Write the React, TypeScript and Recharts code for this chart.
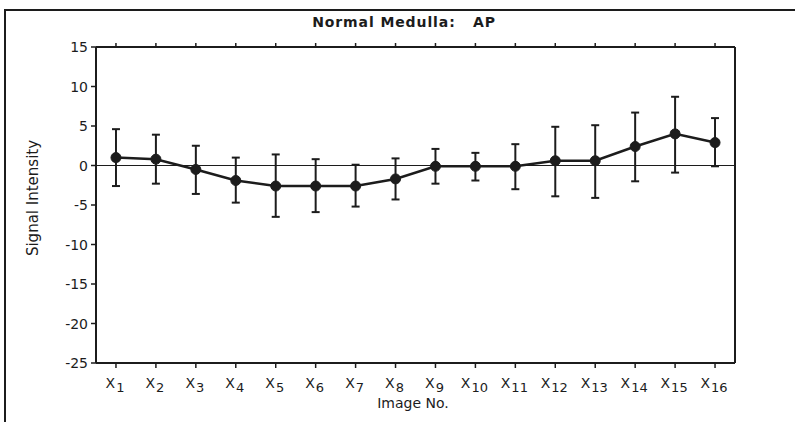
import React from 'react'
import { LineChart, Line, XAxis, YAxis, ReferenceLine, ErrorBar } from 'recharts'

const images = ['X1', 'X2', 'X3', 'X4', 'X5', 'X6', 'X7', 'X8', 'X9', 'X10', 'X11', 'X12', 'X13', 'X14', 'X15', 'X16']
const meanSignal = [1.0, 0.8, -0.5, -1.9, -2.6, -2.6, -2.6, -1.7, -0.1, -0.1, -0.1, 0.6, 0.6, 2.4, 4.0, 2.9]
const upperBar = [4.6, 3.9, 2.5, 1.0, 1.4, 0.8, 0.1, 0.9, 2.1, 1.6, 2.7, 4.9, 5.1, 6.7, 8.7, 6.0]
const lowerBar = [-2.6, -2.3, -3.6, -4.7, -6.5, -5.9, -5.2, -4.3, -2.3, -1.9, -3.0, -3.9, -4.1, -2.0, -0.9, -0.1]
const majorTicks = [15, 10, 5, 0, -5, -10, -15, -20, -25]
const minorTicks = [12.5, 7.5, 2.5, -2.5, -7.5, -12.5, -17.5, -22.5]
const allTicks = [15, 12.5, 10, 7.5, 5, 2.5, 0, -2.5, -5, -7.5, -10, -12.5, -15, -17.5, -20, -22.5, -25]

const chartData = images.map((label, i) => ({
  label,
  mean: meanSignal[i],
  err: [meanSignal[i] - lowerBar[i], upperBar[i] - meanSignal[i]],
}))

const INK = '#1c1c1c'
const FONT = '"DejaVu Sans", sans-serif'

const XTick = (props: any) => {
  const { x, y, payload } = props
  const num = String(payload.value).slice(1)
  return (
    <text x={x - 1} y={y + 18} textAnchor="middle" fill={INK} fontFamily={FONT} fontSize={14}>
      <tspan>X</tspan>
      <tspan dx={1} dy={4} fontSize={13}>{num}</tspan>
    </text>
  )
}

const YTick = (props: any) => {
  const { x, y, payload } = props
  return (
    <text x={x} y={y + 5} textAnchor="end" fill={INK} fontFamily={FONT} fontSize={14}>
      {payload.value}
    </text>
  )
}

const NoTick = () => <g />

export default function App() {
  return (
    <div style={{ position: 'absolute', left: 0, top: 0, width: 795, height: 422, background: '#fff', overflow: 'hidden' }}>
      <div
        style={{
          position: 'absolute', left: 4, top: 9, width: 800, height: 420,
          borderTop: `2px solid ${INK}`, borderLeft: `2px solid ${INK}`,
        }}
      />
      <div
        style={{
          position: 'absolute', left: 404, top: 14, transform: 'translateX(-50%)',
          fontFamily: FONT, fontWeight: 'bold', fontSize: 14, letterSpacing: 0.9,
          whiteSpace: 'pre', color: INK,
        }}
      >
        {'Normal Medulla:   AP'}
      </div>
      <div
        style={{
          position: 'absolute', left: 33, top: 198, transform: 'translate(-50%, -50%) rotate(-90deg)',
          fontFamily: FONT, fontSize: 15, whiteSpace: 'nowrap', color: INK,
        }}
      >
        Signal Intensity
      </div>
      <div
        style={{
          position: 'absolute', left: 413, top: 395, transform: 'translateX(-50%)',
          fontFamily: FONT, fontSize: 14, whiteSpace: 'nowrap', color: INK,
        }}
      >
        Image No.
      </div>
      <div style={{ position: 'absolute', left: 0, top: 0 }}>
        <LineChart width={795} height={422} data={chartData} margin={{ top: 37, right: 0, bottom: 0, left: 0 }}>
          <XAxis
            xAxisId="bottom"
            dataKey="label"
            orientation="bottom"
            scale="band"
            height={59}
            interval={0}
            tickSize={5}
            tick={<XTick />}
            axisLine={{ stroke: INK, strokeWidth: 2 }}
            tickLine={{ stroke: INK, strokeWidth: 1.5 }}
          />
          <XAxis
            xAxisId="top"
            dataKey="label"
            orientation="top"
            scale="band"
            height={10}
            interval={0}
            tickSize={4}
            tick={<NoTick />}
            axisLine={{ stroke: INK, strokeWidth: 2 }}
            tickLine={{ stroke: INK, strokeWidth: 1.5 }}
          />
          <YAxis
            yAxisId="left"
            width={96}
            domain={[-25, 15]}
            ticks={majorTicks}
            interval={0}
            tickSize={5}
            tickMargin={3}
            tick={<YTick />}
            axisLine={{ stroke: INK, strokeWidth: 2 }}
            tickLine={{ stroke: INK, strokeWidth: 1.5 }}
          />
          <YAxis
            yAxisId="leftMinor"
            width={0}
            domain={[-25, 15]}
            ticks={minorTicks}
            interval={0}
            tickSize={3}
            tick={<NoTick />}
            axisLine={false}
            tickLine={{ stroke: INK, strokeWidth: 1.5 }}
          />
          <YAxis
            yAxisId="right"
            orientation="right"
            width={60}
            domain={[-25, 15]}
            ticks={allTicks}
            interval={0}
            tickSize={3}
            tick={<NoTick />}
            axisLine={{ stroke: INK, strokeWidth: 2 }}
            tickLine={{ stroke: INK, strokeWidth: 1.5 }}
          />
          <ReferenceLine xAxisId="bottom" yAxisId="left" y={0} stroke={INK} strokeWidth={1.2} />
          <Line
            xAxisId="bottom"
            yAxisId="left"
            type="linear"
            dataKey="mean"
            stroke={INK}
            strokeWidth={2.5}
            dot={{ r: 5, fill: INK, stroke: INK, strokeWidth: 1 }}
            activeDot={false}
            isAnimationActive={false}
          >
            <ErrorBar dataKey="err" direction="y" width={4} stroke={INK} strokeWidth={2} isAnimationActive={false} />
          </Line>
        </LineChart>
      </div>
    </div>
  )
}
